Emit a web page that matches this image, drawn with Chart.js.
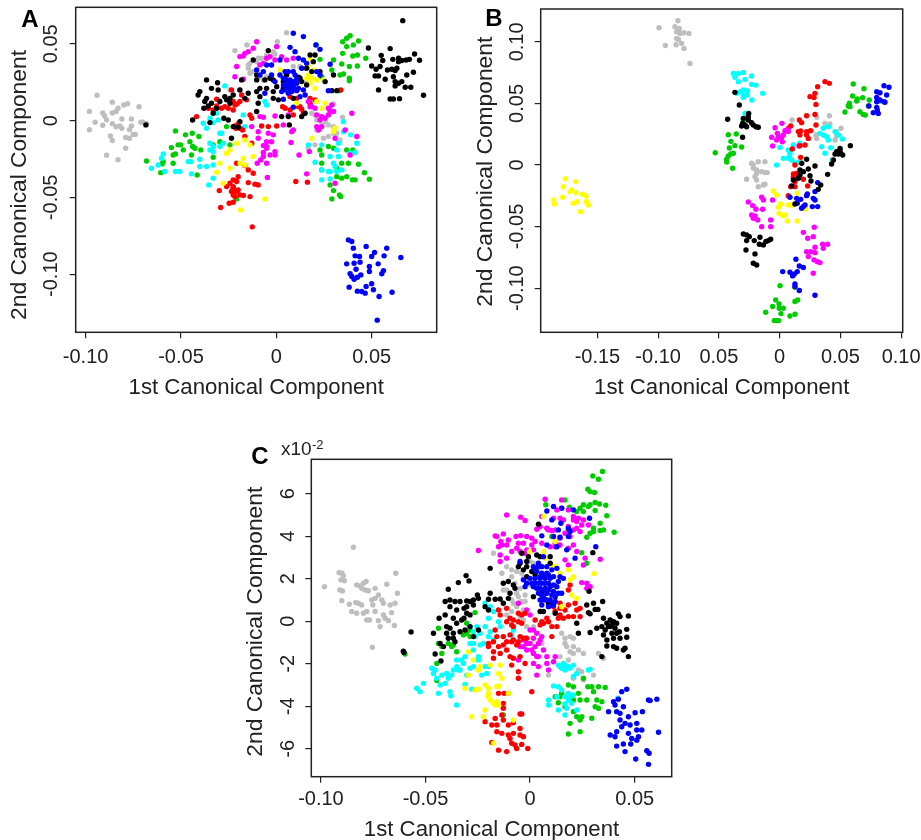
<!DOCTYPE html>
<html>
<head>
<meta charset="utf-8">
<title>Canonical components</title>
<script src="https://cdn.jsdelivr.net/npm/chart.js@4"></script>
<style>
  body { margin: 0; background: #fff; }
  canvas { position: absolute; }
</style>
</head>
<body>
<canvas id="panelA" width="461" height="400" style="left:0;top:0"></canvas>
<canvas id="panelB" width="461" height="400" style="left:460px;top:0"></canvas>
<canvas id="panelC" width="440" height="410" style="left:240px;top:430px"></canvas>
<script>
var colors = { gray: "#BEBEBE", black: "#000000", red: "#FF0000", green: "#00CD00", blue: "#0000FF", cyan: "#00FFFF", magenta: "#FF00FF", yellow: "#FFFF00" };

// panel A
var aX = [-0.10, -0.05, 0, 0.05];
var aXLabels = ["-0.10", "-0.05", "0", "0.05"];
var aY = [-0.10, -0.05, 0, 0.05];
var aYLabels = ["-0.10", "-0.05", "0", "0.05"];

var aGray = [[-.094,.0165],[-.098,.006],[-.098,-.006],[-.086,.012],[-.091,.005],[-.095,-.001],[-.091,-.003],[-.086,-.002],[-.084,.006],[-.086,.005],[-.083,.008],[-.08,.0102],[-.078,.011],[-.072,.009],[-.09,.003],[-.089,.0005],[-.081,.001],[-.076,.001],[-.084,-.004],[-.082,-.0035],[-.076,-.0035],[-.071,-.001],[-.07,-.001],[-.068,-.002],[-.087,-.01],[-.086,-.013],[-.079,-.011],[-.077,-.0115],[-.074,-.009],[-.079,-.018],[-.089,-.0225],[-.083,-.0255],[-.077,-.006],[-.081,-.005],[-.075,-.009],
[-.0217,.0456],[-.0154,.0493],[.0054,.0573],[.0005,.0514],[.0002,.0482],[-.0095,.0406],[-.0051,.0427],[-.0016,.0449],[-.0007,.0434],[-.0147,.0362],[-.0138,.0308],[-.0068,.0265],[.0133,.0341],[.0159,.0243],[-.0243,.02],[-.0191,.02],[.0186,.0048],[.0203,.0037],[.0212,.0004],[.0347,.0022],[.03,.0109],[.0229,-.005],[.0212,-.0061],[.0273,-.0028],[.03,-.0082],[.0273,-.0104],[.0334,-.0126],[.0326,-.0137],[.0168,-.018],[.0203,-.0158],[.0247,-.0115],
[-.0103,.0384],[-.0077,.0406],[-.0138,.0373],[-.0121,.0319],[-.0147,.0341],[-.0086,.0286],[-.0051,.0286],[.0124,.0352],[.0151,.0341],[.0089,.0352],[.0282,.0069],[.0256,-.0007],[.0238,-.0028],[.03,-.0039],[.0317,-.0082]];
var aBlack = [[.0663,.0651],[.0483,.0473],[.0597,.0469],[.0725,.0434],[.0751,.0393],[.055,.0425],[.0558,.0391],[.05,.0356],[.0523,.0334],[.0544,.0352],[.0518,.0291],[.0536,.0291],[.0571,.0269],[.0583,.033],[.0611,.0399],[.0641,.0406],[.0658,.0391],[.0681,.0395],[.0698,.0399],[.0719,.0315],[.0684,.0297],[.0606,.0334],[.0623,.0326],[.0614,.0286],[.0623,.0254],[.0641,.0243],[.0658,.0254],[.0676,.0217],[.0705,.0217],[.0536,.02],[.0623,.0226],[.0772,.0165],[.0597,.0141],[.0614,.0141],[.0646,.0143],[.0632,.0341],[.0641,.0384],
[-.0366,.0265],[-.0401,.0189],[-.041,.0167],[-.034,.021],[-.0308,.0247],[-.0305,.02],[-.0366,.0145],[-.0375,.0124],[-.0357,.0095],[-.038,.008],[-.034,.0113],[-.0296,.0124],[-.0261,.0135],[-.0243,.0145],[-.027,.0156],[-.0226,.0167],[-.0191,.02],[-.0147,.0178],[-.0165,.0145],[-.0182,.0265],[-.0103,.0265],[-.0103,.0189],[-.0086,.0156],[-.0095,.0113],[-.0103,.0059],[-.0439,.0004],[-.0348,-.0013],[-.0275,.0015],[-.0252,.0004],[-.0226,-.0039],[-.02,-.0043],[-.0191,-.0007],[-.0235,-.0115],[-.0331,.0048],[-.0313,.008],[-.0243,.0113],
[-.0042,.0456],[-.0121,.0395],[-.0103,.0297],[-.006,.0265],[-.0051,.021],[-.0086,.021],[-.0016,.0189],[.0037,.021],[.0037,.0254],[.0072,.0221],[.0124,.0276],[.0159,.0232],[.0203,.0427],[.0194,.0384],[.0229,.0319],[.0256,.0254],[.03,.0297],[.0291,.0195],[.0317,.0195],[.0028,.0026],[.0063,.0026],[.0068,-.0028],[.0133,.0026],[.0151,.0048],[-.0016,.0145],[.0011,.0135],[-.0684,-.0028],
[.0054,.0297],[-.0016,.0265],[.0002,.0221],[-.0033,.0276],[.0116,.0282],[.0133,.0254],[.0159,.0341],[.0186,.0319],[.0089,.0145],[.0177,.0427]];
var aRed = [[-.0418,.0026],[-.0357,.008],[-.0313,.0139],[-.0287,.008],[-.0331,.0069],[-.027,.0091],[-.0217,.0102],[-.0191,.0124],[-.0156,.0135],[-.0182,.0167],[-.0235,.02],[-.0138,.0037],[-.0129,.0015],[-.0226,.0069],[-.0217,-.0035],[-.0191,-.005],[-.0077,-.0035],[-.0042,-.0039],[.0002,-.0035],[-.0177,-.0061],[-.0165,-.0104],[-.0129,-.0148],[.0033,.0091],[.0046,.008],[.0072,.0069],[.0107,.0145],[.0116,.0091],[.0133,.0074],[.0089,.0037],[.0142,.0048],[.0177,.0145],[.0177,.0113],[.0203,.0135],[.0072,.0156],[.0124,.0091],
[-.0208,-.0278],[-.0165,-.0293],[-.0147,-.0321],[-.0121,-.0343],[-.0226,-.0386],[-.0243,-.0408],[-.0261,-.043],[-.0208,-.0397],[-.0226,-.043],[-.0235,-.0462],[-.0208,-.0462],[-.0191,-.0484],[-.0226,-.0484],[-.0173,-.0488],[-.0138,-.0495],[-.0095,-.0419],[-.0112,-.0414],[-.0147,-.0404],[-.02,-.0365],[-.0299,-.0456],[-.0247,-.0538],[-.0226,-.0532],[-.0292,-.0566],[-.0126,-.0692],[.0102,-.0397],[.0163,-.0401],[.0338,.02],
[-.0226,.0124],[-.0252,.008],[-.02,-.0022],[-.0212,-.005],[-.0313,.0095],[-.0205,.0109],[-.0217,-.0495],[-.0226,-.0441],[-.02,-.0451]];
var aGreen = [[.0387,.0553],[.0369,.0536],[.0348,.0514],[.0431,.0519],[.0369,.0482],[.0404,.0493],[.0348,.0438],[.0401,.0421],[.0425,.0427],[.0469,.0406],[.0343,.0369],[.0383,.0352],[.0425,.0356],[.0352,.0304],[.0334,.0297],[.0383,.0276],[.0383,.026],[.0208,.0493],[.0229,.0399],[.03,.0395],[.0238,.0286],[.0291,.033],[.0331,.0195],
[-.0529,-.0067],[-.0441,-.0082],[-.0476,-.0093],[-.0406,-.0104],[-.0453,-.0137],[-.055,-.0176],[-.0515,-.0158],[-.0502,-.0158],[-.0488,-.0191],[-.0439,-.0169],[-.0427,-.018],[-.0396,-.0191],[-.0445,-.0224],[-.0331,-.0158],[-.0529,-.0217],[-.0541,-.0224],[-.0593,-.0267],[-.0599,-.0282],[-.0606,-.0339],[-.0541,-.0278],[-.0415,-.0354],[-.0681,-.0263],[-.0331,-.0239],[-.0296,-.0137],[-.0243,-.0158],[-.0261,-.0039],
[.0229,-.0191],[.0238,-.0224],[.0273,-.0169],[.03,-.018],[.0369,-.0191],[.0401,-.0191],[.0238,-.0278],[.0343,-.0278],[.0378,-.0278],[.0431,-.0284],[.0238,-.0321],[.0317,-.031],[.0343,-.0375],[.0369,-.0365],[.0399,-.0386],[.0413,-.0386],[.0462,-.0339],[.0488,-.0382],[.0317,-.0365],[.0282,-.0419],[.03,-.0456],[.0331,-.0484],[.0338,-.0495],[.0291,-.051],[-.0208,-.051]];
var aBlue = [[.0378,-.0777],[.0396,-.0788],[.0404,-.0831],[.0471,-.082],[.0515,-.0859],[.0579,-.0831],[.0413,-.0881],[.0436,-.0885],[.05,-.0885],[.0565,-.0881],[.0653,-.0892],[.0369,-.0933],[.0408,-.0929],[.0439,-.0922],[.0534,-.0933],[.0418,-.0968],[.0488,-.095],[.0562,-.0977],[.0553,-.0998],[.0488,-.0983],[.0387,-.0998],[.0396,-.1016],[.0408,-.1033],[.0425,-.102],[.0443,-.1005],[.0382,-.1085],[.0471,-.1081],[.05,-.1063],[.0425,-.1111],[.0448,-.1113],[.0466,-.1124],[.0509,-.1102],[.0539,-.1146],[.0607,-.1118],[.0529,-.13],
[.0089,.0569],[.0142,.0547],[.0072,.0477],[.0098,.0449],[.0208,.0493],[.0229,.0464],[.0019,.0395],[.0116,.0406],[.0142,.0395],[.0159,.0373],[.0282,.0367],[-.0051,.0362],[-.0025,.0362],[-.0103,.033],[-.0068,.0319],[-.0025,.0297],[.0046,.0319],[.0089,.0319],[.0098,.0297],[.0037,.0276],[.0054,.0265],[.0072,.0265],[.0089,.0254],[.0107,.0243],[.0054,.0232],[.0072,.0217],[.0089,.0221],[.0116,.021],[.0046,.02],[.0063,.0178],[.0081,.0189],[-.0007,.0254],[-.006,.0178],[.0037,.0139],[.0107,.0195],[.0142,.02],[.0151,.0167],[.0212,.0319],[.0229,.0297],[.0273,.0195],[.0089,.0087],[-.0086,.0297],[.0019,.0297],
[.0068,.0243],[.0081,.0239],[.0093,.0204],[.0075,.02],[.0058,.0217],[.0037,.0232],[.0028,.0189],[.0124,.0156],[.0107,.0269],[.0063,.0319],[.0133,.0341]];
var aCyan = [[-.027,.0226],[-.006,.0124],[-.0051,.0102],[-.0348,.0015],[-.0313,.0048],[-.0305,.0004],[-.0331,-.0013],[-.0383,-.0017],[-.0366,-.005],[-.0173,.0037],[-.0165,-.0039],[-.0296,-.0082],[-.0287,-.0082],[-.0348,-.0148],[-.0331,-.0169],[-.0278,-.0148],[-.0348,-.0191],[-.0331,-.0202],[-.0296,-.0169],[-.0593,-.0217],[-.0602,-.0245],[-.062,-.0289],[-.0655,-.031],[-.0585,-.0332],[-.0529,-.0332],[-.0506,-.0332],[-.0448,-.0267],[-.0462,-.0267],[-.0401,-.0252],[-.0445,-.0347],[-.0401,-.0299],[-.0366,-.0299],[-.0331,-.0289],[-.0331,-.0375],[-.0354,-.0419],[.0352,-.0007],[.0352,-.0072],[.039,-.0093],[.0326,-.0148],[.0422,-.0148],[.0387,-.0213],[.0168,-.0158],[.0238,-.0158],[.0203,-.0271],[.0317,-.0191],[.0326,-.0234],[.0282,-.0234],[.03,-.0278],[.0308,-.0299],[.0317,-.0332],[.0282,-.0332],[.0238,-.0321],[.0273,-.0332],[.0343,-.0321],[.0238,-.0386],[.0282,-.038],[.0413,-.0208]];
var aMagenta = [[-.0103,.0514],[-.0147,.0449],[-.0165,.0438],[-.0173,.0421],[-.0121,.0471],[-.0208,.0352],[-.0217,.0286],[-.0173,.0269],[-.0051,.0406],[-.0068,.0373],[-.0086,.0362],[.0028,.0417],[.0002,.0482],[.0054,.0395],[-.0086,.0026],[-.0068,.0022],[-.0007,.003],[.0063,.0037],[.0168,.0124],[.0186,.0091],[.0203,.008],[.0273,.008],[.0291,.0102],[.03,.0059],[.0273,.0037],[.0256,.0015],[.0229,.0004],[.0238,-.0039],[.0221,-.0061],[.0396,.0048],[.0422,-.0104],[.0361,-.0061],[.0037,-.0028],[.0089,-.0061],[.0081,-.0072],[-.0042,-.0082],[-.0016,-.0093],[-.0051,-.0137],[-.0025,-.0137],[-.0068,-.0163],[-.0051,-.0169],[-.0068,-.0208],[-.0033,-.0224],[-.0007,-.0202],[-.0007,-.0224],[-.01,-.0278],[-.0082,-.0256],[-.0051,-.0278],[-.0047,-.0371],[.0077,-.0143],[.0119,-.0224],[.0173,-.0202],[.0159,-.0347],[.0308,-.0408],[.0387,-.0224],[.0308,-.0115],[-.0095,-.0115],
[-.0191,.0417],[-.0033,.0417],[-.0007,.0395],[.0089,.0406],[.0177,.0091],[.0212,.0037],[.0238,.0026],[.0212,-.0039],[.0282,.0059],[-.0129,-.0039],[-.0095,-.0072],[-.0051,-.018],[-.0068,-.0234]];
var aYellow = [[.0177,.0395],[.0168,.0362],[.0194,.033],[.0168,.0297],[.0186,.0276],[.0212,.0265],[.0247,.0265],[.0159,.0276],[.0177,.0243],[.0203,.021],[.0256,.0113],[.0238,.008],[.0212,.0124],[.0308,-.005],[.03,-.0072],[.0186,-.0115],[-.0165,-.0126],[-.0138,-.0158],[-.0208,-.0148],[-.0243,-.0191],[-.0261,-.0213],[-.0296,-.0278],[-.0243,-.031],[-.0191,-.0278],[-.0165,-.0289],[-.0173,-.0245],[-.0121,-.0234],[-.0313,-.0336],[-.0278,-.0408],[-.006,-.051],[-.0187,-.0582],[.0107,.0113],[.0019,.033]];

// panel B, the -0.05 tick is printed without its minus sign in the original
var bX = [-0.15, -0.10, -0.05, 0, 0.05, 0.10];
var bXLabels = ["-0.15", "-0.10", "0.05", "0", "0.05", "0.10"];
var bY = [-0.10, -0.05, 0, 0.05, 0.10];
var bYLabels = ["-0.10", "-0.05", "0", "0.05", "0.10"];

var bGray = [[-.0837,.1172],[-.0993,.1115],[-.0862,.1123],[-.0826,.1109],[-.0848,.1082],[-.082,.1069],[-.0788,.1074],[-.0746,.1069],[-.0848,.1028],[-.0834,.102],[-.0941,.0971],[-.0853,.0977],[-.0807,.0988],[-.0788,.0947],[-.0738,.0825],
[-.0231,.0014],[-.0176,.0027],[-.0121,.0027],[-.0217,-.0027],[-.0189,-.0041],[-.0148,-.0054],[-.0121,-.0062],[-.0102,-.0062],[-.0272,-.0116],[-.0203,-.0095],[-.0189,-.0122],[-.0176,-.0176],[-.0134,-.0162],[-.0121,-.0157],[-.0189,-.0068],[-.0217,0],
[.0102,.0365],[.0305,.0387],[.0409,.04],[.0373,.0338],[.0414,.0333],[.0401,.0317],[.0505,.0298],[.0469,.0271],[.0456,.0203],[.0305,.0216],[.0299,.0244],[.0469,.0235]];
var bCyan = [[-.0381,.0744],[-.034,.0744],[-.0299,.0752],[-.0231,.0723],[-.0368,.0712],[-.034,.0677],[-.0285,.0695],[-.0231,.0655],[-.0195,.0649],[-.0299,.0609],[-.0266,.0603],[-.0327,.0595],[-.0354,.0582],[-.014,.0582],[-.0299,.0568],[-.0266,.0568],[-.0299,.0549],[-.0228,.0528],[-.0285,.0419],
[.0113,.0162],[.0167,.0176],[.0003,.0143],[.0071,.0122],[.0085,.0095],[.003,.0054],[.0071,.0054],[.0099,.0041],[.0126,.0014],[.0154,.0022],[-.0025,0],[.008,.0068],
[.0359,.0298],[.0401,.0311],[.0332,.0257],[.0359,.0244],[.0387,.023],[.0401,.0203],[.0346,.0149],[.042,.0141],[.0373,.0095],[.0456,.0271],[.0483,.0244],[.0516,.0211],[.0434,.0041]];
var bBlack = [[-.0368,.059],[-.0332,.0487],[-.0428,.0371],[-.0255,.0419],[-.0299,.0379],[-.0258,.0392],[-.0305,.0338],[-.0285,.0325],[-.0258,.0365],[-.0231,.0344],[-.0217,.0325],[-.0195,.0311],[-.0176,.0306],[-.0313,.0317],[-.0272,.0311],[-.0305,.0225],
[.0582,.0157],[.0497,.0135],[.0469,.0108],[.0483,.0089],[.0456,.0089],[.0502,.0095],[.0519,.0081],[.0442,.0041],[.0428,.0008],[.0497,.0116],[.0395,-.0076],
[.0222,.0046],[.0181,.0014],[.0291,-.0008],[.0167,-.0041],[.0195,-.0054],[.0236,-.0032],[.025,-.0087],[.0167,-.0081],[.0154,-.0108],[.0113,-.0122],[.0099,-.017],[.0258,-.013],[.0338,-.0162],[.0318,-.0198],[.0126,-.0317],
[-.0299,-.056],[-.0272,-.0568],[-.025,-.0582],[-.0272,-.0614],[-.0209,-.0614],[-.0162,-.0587],[-.0074,-.0603],[-.0113,-.0622],[-.0134,-.0649],[-.0167,-.0644],[-.0277,-.069],[-.0203,-.0722],[-.0217,-.0798],[-.0189,-.0812],[-.0093,-.0614]];
var bRed = [[.0373,.0677],[.0409,.0663],[.0313,.0636],[.0291,.0582],[.025,.0555],[.0283,.0549],[.0299,.0492],[.0222,.04],[.0291,.0411],[.0299,.0325],[.0162,.0365],[.0181,.0344],[.0091,.0317],[.0154,.0271],[.0173,.0276],[.0167,.0244],[.0222,.0271],[.0255,.0279],[.0222,.0244],[.0236,.0216],[.0209,.0162],[.0167,.0157],[.0104,.013],[.0173,.0062],[.0126,0],[.0113,-.0073],[.014,-.0068],[.0113,-.01],[.0126,-.0135],[.0091,-.0176],[.0126,-.0176],[.0231,-.017],[.0071,-.0249],[.0195,-.0116]];
var bGreen = [[.0606,.0658],[.0601,.056],[.0694,.062],[.0683,.0547],[.0639,.0536],[.0634,.052],[.0738,.0528],[.0574,.0501],[.0565,.0479],[.0579,.0474],[.0538,.043],[.0661,.0433],[.0689,.0411],[.0705,.0406],[.0826,.052],[.073,.0479],
[-.0299,.0365],[-.0423,.0246],[-.0357,.0252],[-.0401,.0192],[-.0414,.0138],[-.0368,.0157],[-.0313,.0146],[-.053,.01],[-.0381,.0095],[-.0403,.0089],[-.0423,.0073],[-.0436,.0046],[-.0436,.0024],[-.0387,-.0027],
[.0003,-.098],[.0126,-.0993],[.0148,-.1096],[.0126,-.1109],[-.0033,-.1096],[-.0005,-.1128],[-.0058,-.115],[-.0003,-.1164],[.003,-.1164],[-.0115,-.1196],[.0011,-.1207],[.0126,-.1212],[.0085,-.1226],[-.0044,-.1264],[-.0025,-.1264],[-.0008,-.1264]];
var bBlue = [[.0859,.0644],[.09,.0631],[.0799,.0595],[.0826,.0587],[.0881,.0568],[.0799,.0549],[.0799,.0514],[.0826,.0528],[.0859,.0514],[.0735,.0479],[.0799,.0468],[.0771,.0425],[.0812,.0419],[.0804,.0446],[.0867,.0509],
[.0313,-.0143],[.0291,-.0216],[.0228,-.0235],[.0222,-.0249],[.0085,-.0262],[.014,-.0271],[.0173,-.0279],[.0277,-.0271],[.0291,-.0284],[.0145,-.0311],[.0209,-.0325],[.0181,-.0352],[.0195,-.0338],[.0269,-.0338],[.0313,-.0338],
[.0134,-.0766],[.0162,-.082],[.0195,-.0833],[.0145,-.0866],[.0121,-.0885],[.0085,-.0871],[.0025,-.0866],[.0107,-.0901],[.0126,-.0966],[.0126,-.0988],[.0162,-.102],[.0291,-.1058]];
var bMagenta = [[.0019,.0338],[-.0038,.0303],[.0071,.0298],[.0044,.0279],[-.0019,.0257],[.003,.0244],[.0071,.0271],[-.0066,.0225],[-.0011,.0225],[.0016,.0225],[-.0025,.0203],[.0022,.0189],[-.0058,.0154],[.0159,.0154],
[-.0148,-.0262],[-.0134,-.0284],[-.0058,-.0284],[-.0258,-.03],[-.0222,-.033],[-.0195,-.036],[-.014,-.036],[-.0231,-.0406],[-.0203,-.0414],[-.0217,-.0433],[-.0181,-.0446],[-.0148,-.0501],[-.0074,-.0446],[-.0074,-.0501],
[.0285,-.0506],[.0195,-.0547],[.0277,-.0582],[.0231,-.0595],[.0354,-.0644],[.0395,-.0644],[.0291,-.0668],[.0359,-.0677],[.0222,-.0704],[.0255,-.0704],[.0291,-.0712],[.0236,-.0744],[.0283,-.0771],[.031,-.0785],[.0332,-.0793],[.0277,-.0879]];
var bYellow = [[-.1764,-.0111],[-.1679,-.0135],[-.1781,-.0176],[-.1786,-.0262],[-.1726,-.0216],[-.1679,-.0225],[-.1624,-.0238],[-.1594,-.0252],[-.186,-.0284],[-.1855,-.0317],[-.1699,-.0311],[-.1666,-.0298],[-.1589,-.0298],[-.1575,-.0325],[-.1638,-.0379],[-.1712,-.0203],
[-.0052,-.0211],[-.0025,-.0244],[.0145,-.023],[.0008,-.0317],[-.0011,-.0344],[.0071,-.0325],[.0099,-.0325],[-.0005,-.0392],[.0044,-.0406],[.0025,-.0411],[.0063,-.0455],[.0145,-.0455],[.0214,-.0357]];

// panel C, y values are in units of 10^-2
var cX = [-0.10, -0.05, 0, 0.05];
var cXLabels = ["-0.10", "-0.05", "0", "0.05"];
var cY = [-6, -4, -2, 0, 2, 4, 6];
var cYLabels = ["-6", "-4", "-2", "0", "2", "4", "6"];

var cGray = [[-.0845,3.48],[-.0983,1.63],[-.0913,2.29],[-.09,2.26],[-.0893,2.15],[-.0904,1.95],[-.0888,1.91],[-.0909,1.47],[-.0897,1.43],[-.09,.97],[-.0864,.8],[-.0853,.46],[-.0834,.88],[-.0821,.85],[-.0829,1.71],[-.0813,1.66],[-.0797,1.79],[-.0784,1.87],[-.0805,1.55],[-.0789,1.47],[-.0773,1.44],[-.0741,1.55],[-.0685,1.74],[-.0642,2.26],[-.0634,1.32],[-.0725,1.24],[-.0741,1.08],[-.0757,1],[-.0709,1],[-.0701,.85],[-.0752,.77],[-.0805,.77],[-.0829,.38],[-.0797,.38],[-.0781,.46],[-.0741,.46],[-.0701,.3],[-.0662,.41],[-.0669,.77],[-.0646,.85],[-.0781,.06],[-.0768,.06],[-.0725,.03],[-.0717,-.25],[-.0693,.14],[-.0677,.03],[-.0649,-.2],[-.0754,-1.22],
[-.0104,3.78],[-.0175,3.2],[-.0135,2.26],[-.0112,2.57],[-.0088,2.42],[-.0064,2.34],[-.004,2.26],[0,2.81],[.0016,2.73],[-.0032,2.02],[-.0016,1.87],[0,1.71],[-.0112,1.47],[-.0128,1.47],[-.0064,1.32],[-.0088,1],[-.0056,1.16],[-.004,.93],[-.0064,.69],[-.0088,.46],[-.0112,.3],[-.0032,.53],[-.0032,.06],[-.0016,-.25],[.0016,-.25],[.0056,-1.04],[.0151,-.56],[.0167,-.8],[.0191,-.72],[.0207,-.8],[.0175,-1.19],[.0191,-1.43],[.0143,-1.66],[.0183,-1.82],[.0231,-1.35],[.0255,-1.51],[.0327,-1.51],[.0351,-1.74],[.0231,-2.29],[.0247,-2.37],[.0303,-2.53],[.0088,-2.53],[.0207,-2.68],[.0255,-2.76],
[-.0088,2.1],[-.0072,1.79],[-.0048,1.55],[-.0024,1.24],[-.008,.85],[-.0112,.61],[-.0024,.93],[-.0048,.22],[.0167,-1.04],[.0207,-1.19],[.0207,-1.51]];
var cBlack = [[-.0391,1.51],[-.0343,1.82],[-.0306,2.15],[-.0292,1.9],[-.0569,-.5],[-.0606,-1.41],[-.0603,-1.47],[-.0462,-.56],[-.0435,.14],[-.0406,.93],[-.0383,1],[-.0359,.93],[-.0335,.93],[-.0303,.96],[-.0287,.93],[-.0271,1],[-.0252,1.24],[-.0247,1.08],[-.0215,.69],[-.0199,.53],[-.0316,.61],[-.0303,.38],[-.0287,.3],[-.0316,.14],[-.0327,.06],[-.0367,.14],[-.0399,-.25],[-.0383,-.33],[-.0351,-.09],[-.0335,-.49],[-.0287,-.25],[-.0247,-.41],[-.0367,-.8],[-.0359,-.96],[-.0414,-1.19],[-.0454,-1.54],[-.0426,-1.87],[-.0399,-.56],[-.0383,.69],[-.0271,.77],
[-.0191,2.49],[-.0128,1.79],[-.0104,1.87],[-.008,1.71],[-.0072,1.55],[-.0096,1.32],[-.004,3.2],[-.0008,3.04],[.0032,3.12],[-.0056,2.57],[-.0016,2.57],[.0008,2.34],[.0024,2.18],[-.0016,2.1],[.0016,1.79],[.0056,1.32],[.0096,3.04],[.0096,2.73],[-.0199,1.04],[-.0167,1.04],[-.0143,1.05],[-.0104,1.08],[-.0191,1.32],[-.0128,.85],[.004,4.57],[.03,3.23],[.0282,1.41],[.0064,.46],[.012,.38],[.0104,.77],
[.0347,.93],[.0311,.56],[.0324,.56],[.0271,.77],[.0279,.41],[.0287,.35],[.0223,-.09],[.0231,-.56],[.0287,-.53],[.0319,-.33],[.0343,-.25],[.0351,.14],[.0367,-.09],[.0383,.06],[.0399,-.02],[.0422,.35],[.043,.22],[.047,.25],[.0375,-.25],[.0391,-.17],[.0406,-.33],[.0427,-.49],[.0462,-.38],[.0351,-.64],[.0399,-.8],[.043,-.8],[.0462,-.75],[.0367,-1.16],[.0399,-1.19],[.0414,-1.27],[.0454,-1.27],[.0446,-1.35],[.047,-1.66],[.0343,-1.66],[.0359,-.41],[.0391,-.56],[.0414,-.09],
[-.043,-1.04],[-.0391,-.8],[-.0367,-.56],[-.0311,-.41],[-.0271,-.72],[-.0351,.53],[-.0303,.69],[-.0406,.3],[-.0048,2.73],[-.0032,2.42],[.0048,3.04],[-.0016,2.81],[.0088,.85],[.0048,.46],[.0016,1.16],[.0303,.85],[.0383,-.25],[.0414,-.56],[.0367,-.88]];
var cBlue = [[.0064,3.04],[.0016,2.57],[.004,2.57],[.0056,2.57],[.008,2.57],[.0104,2.42],[.0032,2.34],[.0056,2.26],[.008,2.26],[-.0032,1.95],[0,2.02],[.0024,2.02],[.0048,2.02],[.0072,2.02],[.0096,2.02],[.0112,2.1],[.0143,2.1],[-.0024,1.63],[.0016,1.63],[.004,1.79],[.0056,1.79],[.0072,1.79],[.0088,1.79],[.0112,1.71],[.0135,1.87],[.0048,1.55],[.0072,1.55],[.0088,1.47],[.0112,1.4],[.004,1.32],[.0056,1.24],[.008,1.32],[.0104,1.24],[.0135,1.32],[.0048,1],[.0072,1],[.0096,1],[.012,.93],[.0056,.77],[.0088,.69],[-.0048,2.81],[.0104,.85],
[.004,2.73],[.0024,2.42],[.0048,2.1],[.0064,2.1],[.0088,2.18],[.0008,1.79],[.0032,1.55],[.0064,1.47],[.0096,1.63],[.0128,1.63],[.0064,1.16],[.012,1.16],[.0151,1.32],[.008,1],[.0024,1.79],[-.0016,1.79],[.0112,.77],[.0056,1],[.0128,2.49],[.0159,2.02],
[.0112,5.4],[.008,5.19],[.0151,5.32],[.0207,5.24],[.0104,4.77],[.0147,4.61],[.0284,4.85],[.0183,4.38],[.0135,4.3],[.0191,4.22],[.0112,3.99],[.0143,3.95],[.0056,4.02],[.0183,3.99],[.0314,3.51],[.0215,2.97],[.0175,3.36],[.0128,3.51],[.008,3.59],
[.0462,-3.2],[.0438,-3.31],[.0422,-3.67],[.0399,-3.78],[.0406,-3.94],[.0375,-4.25],[.0414,-4.25],[.0446,-4.02],[.043,-4.33],[.047,-4.49],[.0502,-4.3],[.0537,-4.25],[.0566,-3.7],[.0606,-3.67],[.0574,-3.73],[.043,-4.64],[.0454,-4.8],[.0478,-4.88],[.051,-4.8],[.0534,-5.11],[.051,-5.11],[.0438,-4.96],[.0414,-5.19],[.0383,-5.35],[.0406,-5.43],[.047,-5.27],[.0614,-5.22],[.0486,-5.51],[.0518,-5.43],[.0446,-5.77],[.0414,-5.87],[.0481,-5.77],[.051,-5.59],[.0558,-6.09],[.0569,-6.21],[.0454,-6.13],[.0505,-6.48],[.0566,-6.73]];
var cGreen = [[.0346,7.05],[.03,6.84],[.0327,6.68],[.0276,6.21],[.0287,6.1],[.0308,6.06],[.0311,5.59],[.0332,5.52],[.0362,5.46],[.0287,5.48],[.0311,5.21],[.0279,5.4],[.0255,5.48],[.0239,5.32],[.0223,5.16],[.0255,5.16],[.0188,5.37],[.0167,5.71],[.0075,5.48],[.0367,4.97],[.0335,4.61],[.0303,4.38],[.0351,4.3],[.0335,4.27],[.0303,4.22],[.0287,4.14],[.0402,4.19],[.0183,4.22],[.0271,3.95],[.0104,3.99],[.0247,3.23],[.0271,2.73],
[-.0438,-.33],[-.0438,-1.04],[-.0422,-1.19],[-.0391,-1.04],[-.0375,-1.19],[-.0367,-1.11],[-.0351,-1.43],[-.0303,-.09],[-.0287,-.41],[-.0303,-.56],[-.0319,-.64],[-.0287,-.72],[-.0263,.41],[-.0422,-1.51],[-.0446,-1.98],[-.0446,-2.79],[-.0598,-1.54],
[.0151,-3.39],[.0183,-3],[.0207,-3.08],[.0231,-3.39],[.012,-3.55],[.0143,-3.55],[.0191,-3.55],[.0135,-3.83],[.0167,-4.02],[.0207,-3.7],[.0239,-3.7],[.0207,-4.25],[.0223,-4.49],[.0247,-4.49],[.0239,-4.64],[.0191,-4.8],[.0239,-5.19],[.0183,-5.3],[.0276,-3.08],[.0295,-3.08],[.0327,-3.08],[.0359,-3.11],[.0303,-3.31],[.0271,-3.7],[.0319,-3.7],[.0343,-3.78],[.0311,-4.02],[.0327,-4.09],[.0295,-4.56],[-.0128,-4.41],[.0255,-2.68]];
var cMagenta = [[-.0247,3.33],[-.0112,5],[-.0045,4.9],[-.0024,4.74],[-.0167,4.02],[-.0159,3.99],[-.0128,4.11],[-.014,3.75],[-.0151,3.51],[-.0135,3.59],[-.0104,3.83],[-.0088,3.28],[-.0067,3.99],[-.0045,4.03],[-.0016,3.99],[.0008,3.91],[.0024,3.75],[-.0032,3.67],[.0016,3.36],[-.0064,3.44],[-.0048,3.28],[-.0024,3.2],[-.0143,2.81],[-.0112,2.97],[.0072,5.74],[.0151,5.71],[.0032,4.33],[.0056,4.93],[.0112,4.85],[.0128,5.24],[.0151,5.32],[.0183,4.46],[.0207,4.77],[.0231,4.85],[.0255,4.77],[.0279,4.53],[.0239,4.22],[.0223,4.38],[.0191,3.99],[.0143,3.59],[.012,3.51],[.0088,4.3],[.0104,4.27],[.0183,3.44],[.0207,3.59],[.0223,3.28],[.0263,2.97],[.0335,2.92],[.0255,2.65],[.0167,2.89],[.0183,2.65],[.0271,1.79],[.0287,1.63],[.0247,1.82],[.0271,1.55],
[.0048,4.46],[.008,4.38],[.012,4.3],[.0159,4.77],[.0183,5.24],[.0207,4.93],[.0223,4.69],[.0247,4.53],[.0143,4.85],[.0167,4.14],[.0143,3.91],[.012,3.67],[.0096,3.51],[.0056,3.67],[-.0016,3.36],[-.0056,3.67],[-.0112,3.59],[-.0143,3.12],[.0008,3.59],[.0207,4.3],
[-.0056,.85],[-.0016,.53],[0,.3],[0,-.41],[.0032,-.56],[-.0024,-.8],[.0016,-.8],[0,-1.04],[-.0032,-1.19],[-.0016,-1.35],[.0024,-1.19],[.0048,-.88],[.0064,-1.35],[.0032,-1.66],[.0016,-1.98],[.004,-2.13],[.0032,-2.53],[.008,-1.66],[.0088,-2.29],[.012,-1.66],[.0112,-1.9],[-.0056,-1.82],
[.0008,-1.35],[-.0048,-1.19],[.004,-1.04],[.0056,-.72],[.0016,-1.51],[.008,-1.98],[.004,-1.66],[-.0032,-.88],[-.0016,-1.04],[.0016,-.41]];
var cCyan = [[-.0215,.85],[-.0191,.69],[-.0199,.14],[-.0175,.46],[-.0151,-.02],[-.0143,-.25],[-.0215,-.25],[-.0191,-.49],[-.0255,-.25],[-.0271,-.49],[-.0239,-.56],[-.0287,-1.04],[-.0239,-1.11],[-.0175,-.88],[-.0128,-.72],[-.008,-.41],[-.0088,-.64],[-.0351,-1.82],[-.0327,-1.82],[-.0271,-1.35],[-.0247,-1.66],[-.0311,-1.66],[-.047,-2.21],[-.0462,-2.45],[-.0454,-2.29],[-.0422,-2.53],[-.0399,-2.45],[-.0375,-2.53],[-.0351,-2.13],[-.0335,-2.29],[-.0287,-2.21],[-.0231,-2.53],[-.0207,-2.45],[-.0303,-2.53],[-.051,-2.92],[-.0542,-3.15],[-.0526,-3.31],[-.0406,-2.92],[-.0383,-3.31],[-.0379,-3.5],[-.0438,-3.39],[-.0351,-3.94],[-.0311,-2.97],[-.0279,-3.19],[-.0199,-2.13],
[-.0287,-.25],[-.0263,-.72],[-.0223,-1.04],[-.0199,-.72],[-.0271,-1.04],[-.0319,-1.98],[-.0343,-2.29],[-.0367,-2.29],[-.0271,-2.13],[-.0247,-1.82],[-.0215,-2.13],[-.0391,-2.68],[-.0446,-2.68],[-.043,-3],
[.0135,-2.06],[.0159,-1.98],[.0183,-2.13],[.0207,-2.06],[.0151,-2.21],[.0191,-2.21],[.0279,-2.29],[.0287,-2.26],[.0112,-3.04],[.0135,-3.08],[.0151,-3.23],[.0183,-3.39],[.0167,-3.55],[.0191,-3.55],[.0088,-3.7],[.0088,-3.94],[.0135,-4.17],[.0167,-3.89],[.0175,-4.09],[.0199,-3.86],[.0223,-4.17],[.0167,-4.41],[.0419,-3.62],[.0207,-2.6],
[.0143,-2.13],[.0167,-2.29],[.0167,-2.06],[.0223,-2.45],[.0183,-3.7],[.0128,-3.55],[.0207,-3.47]];
var cRed = [[-.0151,.53],[-.0112,.61],[-.0143,.3],[-.0096,.14],[-.008,.06],[-.0056,.38],[-.004,.3],[-.0056,-.02],[-.008,-.25],[-.0096,-.64],[-.008,-.88],[-.0056,-.96],[-.0032,-.8],[-.0016,-.8],[-.0064,-1.11],[-.0128,-1.11],[-.0151,-1.19],[-.0175,-.96],[-.0167,-.41],[-.0199,-1.04],[-.0112,-1.35],[-.0143,-1.51],[-.008,-1.74],[-.0048,-1.66],[-.0175,-1.74],[-.0088,-2.06],[-.0024,-1.98],[-.0056,-2.37],[-.0056,-2.68],[.0024,.06],[.0048,-.17],[.0064,-.09],[.0088,-.02],[.0112,.69],[.012,.46],[.0143,.61],[.0167,.53],[.0183,.77],[.0215,.85],[.0239,.61],[.0183,.22],[.0159,.14],[.0135,.14],[.0191,1.71],[.0183,1.47],[.0143,.85],[.0128,-.25],[.0104,-.72],[.0207,.22],[.0223,.53],[.0008,-3.31],
[-.0112,-.02],[-.0088,-.17],[-.004,-.09],[-.0024,.38],[-.0128,-.72],[-.0112,-.96],[-.0048,-.72],[.0056,-.02],[.008,.14],[.0104,-.25],[.0143,.3],[.0239,.22],[-.0088,-.96],[-.0159,-.72],[-.0199,-1.19],[-.0175,-1.43],[-.0096,-1.66],
[-.0124,-3.39],[-.0151,-3.39],[-.0104,-3.39],[-.0128,-3.86],[-.0128,-4.09],[-.0135,-4.41],[-.0128,-4.64],[-.0104,-4.88],[-.008,-4.77],[-.0215,-4.72],[-.0167,-4.57],[-.0183,-4.88],[-.0159,-4.88],[-.0159,-5.19],[-.0135,-5.27],[-.0104,-5.35],[-.008,-5.27],[-.0048,-5.04],[-.0048,-5.35],[-.0032,-5.43],[-.0183,-5.7],[-.0151,-6.06],[-.0112,-6.13],[-.0072,-5.82],[-.0064,-5.98],[-.004,-5.79],[-.0011,-5.98],[-.0096,-5.51],[-.0088,-5.74],[-.0048,-4.36],[-.004,-4.36]];
var cYellow = [[-.0003,3.28],[.0064,3.28],[.0072,2.97],[.0104,2.65],[.012,2.57],[.0183,2.42],[.0207,2.1],[.0143,2.26],[.0191,1.95],[.012,3.75],[.0064,4.93],[.0306,2.24],[.0112,1.63],[.0199,1.24],[.0223,1.08],[.0151,.69],[.0128,1.32],[-.0295,-1.43],[-.0271,-1.82],[-.0247,-2.29],[-.0239,-2.13],[-.0191,-2.06],[-.0143,-2.06],[-.0151,-2.45],[-.0135,-2.68],[-.0295,-2.53],[-.0311,-3.15],[-.0263,-3.23],[-.0247,-3.19],[-.0215,-3],[-.0199,-3.15],[-.0159,-3.08],[-.0151,-3.04],[-.0199,-3.39],[-.0199,-3.55],[-.0191,-3.7],[-.0175,-3.86],[-.0167,-3.94],[-.0159,-3.78],[-.0151,-3.94],[-.0215,-4.17],[-.0279,-4.49],[-.0223,-4.49],[-.008,-4.64],[-.0104,-3.39],[-.0175,-5.74]];

var xName = "1st Canonical Component";
var yName = "2nd Canonical Component";
var fontFamily = "'Liberation Sans', Arial, sans-serif";
var inkColor = "#222222";
var yNameFont = "22.8px " + fontFamily;
var letterFont = "bold 24px " + fontFamily;

function series(name, color, points) {
  return {
    label: name,
    data: points.map(function (p) { return { x: p[0], y: p[1] }; }),
    backgroundColor: colors[color],
    borderWidth: 0,
    pointRadius: 2.7,
    pointHoverRadius: 2.7
  };
}

// box round the plot and the bits of text the scales cannot place
var panelExtras = {
  id: "panelExtras",
  afterDraw: function (chart, args, opts) {
    var c = chart.ctx, a = chart.chartArea;
    c.save();
    c.strokeStyle = inkColor;
    c.lineWidth = 1.5;
    c.strokeRect(a.left, a.top, a.right - a.left, a.bottom - a.top);
    c.textBaseline = "middle";
    opts.notes.forEach(function (n) {
      c.save();
      c.font = n.font;
      c.fillStyle = n.color || inkColor;
      c.textAlign = n.align || "center";
      c.translate(n.x, n.y);
      if (n.turn) c.rotate(-Math.PI / 2);
      c.fillText(n.text, 0, 0);
      c.restore();
    });
    c.restore();
  }
};

function drawPanel(id, p) {
  new Chart(id, {
    type: "scatter",
    data: { datasets: p.datasets },
    plugins: [panelExtras],
    options: {
      responsive: false,
      animation: false,
      layout: { padding: { top: p.top, right: p.right, left: 0, bottom: 0 } },
      plugins: { legend: { display: false }, tooltip: { enabled: false }, panelExtras: { notes: p.notes } },
      scales: {
        x: {
          type: "linear",
          min: p.xMin,
          max: p.xMax,
          afterBuildTicks: function (s) { s.ticks = p.xTicks.map(function (v) { return { value: v }; }); },
          afterFit: function (s) { s.height = p.xHeight; s.paddingLeft = 0; s.paddingRight = 0; },
          border: { display: false },
          grid: { drawOnChartArea: false, tickLength: 6, color: inkColor, lineWidth: 1.2 },
          ticks: {
            autoSkip: false, maxRotation: 0, padding: p.xTickPad, color: inkColor,
            font: { family: fontFamily, size: 20 },
            callback: function (v, i) { return p.xLabels[i]; }
          },
          title: { display: true, text: xName, color: inkColor, font: { family: fontFamily, size: 22.2 }, padding: { top: 0, bottom: p.xTitlePad } }
        },
        y: {
          type: "linear",
          min: p.yMin,
          max: p.yMax,
          afterBuildTicks: function (s) { s.ticks = p.yTicks.map(function (v) { return { value: v }; }); },
          afterFit: function (s) { s.width = p.yWidth; s.paddingTop = 0; s.paddingBottom = 0; },
          border: { display: false },
          grid: { drawOnChartArea: false, tickLength: 6, color: inkColor, lineWidth: 1.2 },
          ticks: {
            autoSkip: false, minRotation: 90, maxRotation: 90, crossAlign: "center", padding: p.yTickPad, color: inkColor,
            font: { family: fontFamily, size: 20 },
            callback: function (v, i) { return p.yLabels[i]; }
          }
        }
      }
    }
  });
}

drawPanel("panelA", {
  datasets: [
    series("blue", "blue", aBlue), series("black", "black", aBlack), series("yellow", "yellow", aYellow),
    series("magenta", "magenta", aMagenta), series("red", "red", aRed), series("cyan", "cyan", aCyan),
    series("green", "green", aGreen), series("gray", "gray", aGray)
  ],
  xMin: -0.1052, xMax: 0.0841, yMin: -0.1379, yMax: 0.0738,
  xTicks: aX, xLabels: aXLabels, yTicks: aY, yLabels: aYLabels,
  top: 7.3, right: 24.3, xHeight: 67.7, yWidth: 75.7, xTitlePad: -1, xTickPad: 7, yTickPad: -5,
  notes: [
    { text: yName, x: 20, y: 185, font: yNameFont, turn: true },
    { text: "A", x: 30, y: 20, font: letterFont, color: "#000" }
  ]
});

drawPanel("panelB", {
  datasets: [
    series("black", "black", bBlack), series("blue", "blue", bBlue), series("yellow", "yellow", bYellow),
    series("red", "red", bRed), series("magenta", "magenta", bMagenta), series("cyan", "cyan", bCyan),
    series("green", "green", bGreen), series("gray", "gray", bGray)
  ],
  xMin: -0.1967, xMax: 0.1013, yMin: -0.1359, yMax: 0.1267,
  xTicks: bX, xLabels: bXLabels, yTicks: bY, yLabels: bYLabels,
  top: 9, right: 18.3, xHeight: 67.7, yWidth: 80.7, xTitlePad: -1, xTickPad: 7, yTickPad: -6,
  notes: [
    { text: yName, x: 26, y: 171.7, font: yNameFont, turn: true },
    { text: "B", x: 34, y: 19, font: letterFont, color: "#000" }
  ]
});

drawPanel("panelC", {
  datasets: [
    series("blue", "blue", cBlue), series("black", "black", cBlack), series("yellow", "yellow", cYellow),
    series("red", "red", cRed), series("magenta", "magenta", cMagenta), series("cyan", "cyan", cCyan),
    series("green", "green", cGreen), series("gray", "gray", cGray)
  ],
  xMin: -0.1046, xMax: 0.0677, yMin: -7.31, yMax: 7.62,
  xTicks: cX, xLabels: cXLabels, yTicks: cY, yLabels: cYLabels,
  top: 29.3, right: 8.3, xHeight: 63.3, yWidth: 71.3, xTitlePad: -3, xTickPad: 5, yTickPad: 8,
  notes: [
    { text: yName, x: 16, y: 191.7, font: yNameFont, turn: true },
    { text: "C", x: 20, y: 27, font: letterFont, color: "#000" },
    { text: "x10", x: 41, y: 20, font: "19px " + fontFamily, align: "left" },
    { text: "-2", x: 72, y: 15, font: "13px " + fontFamily, align: "left" }
  ]
});
</script>
</body>
</html>
